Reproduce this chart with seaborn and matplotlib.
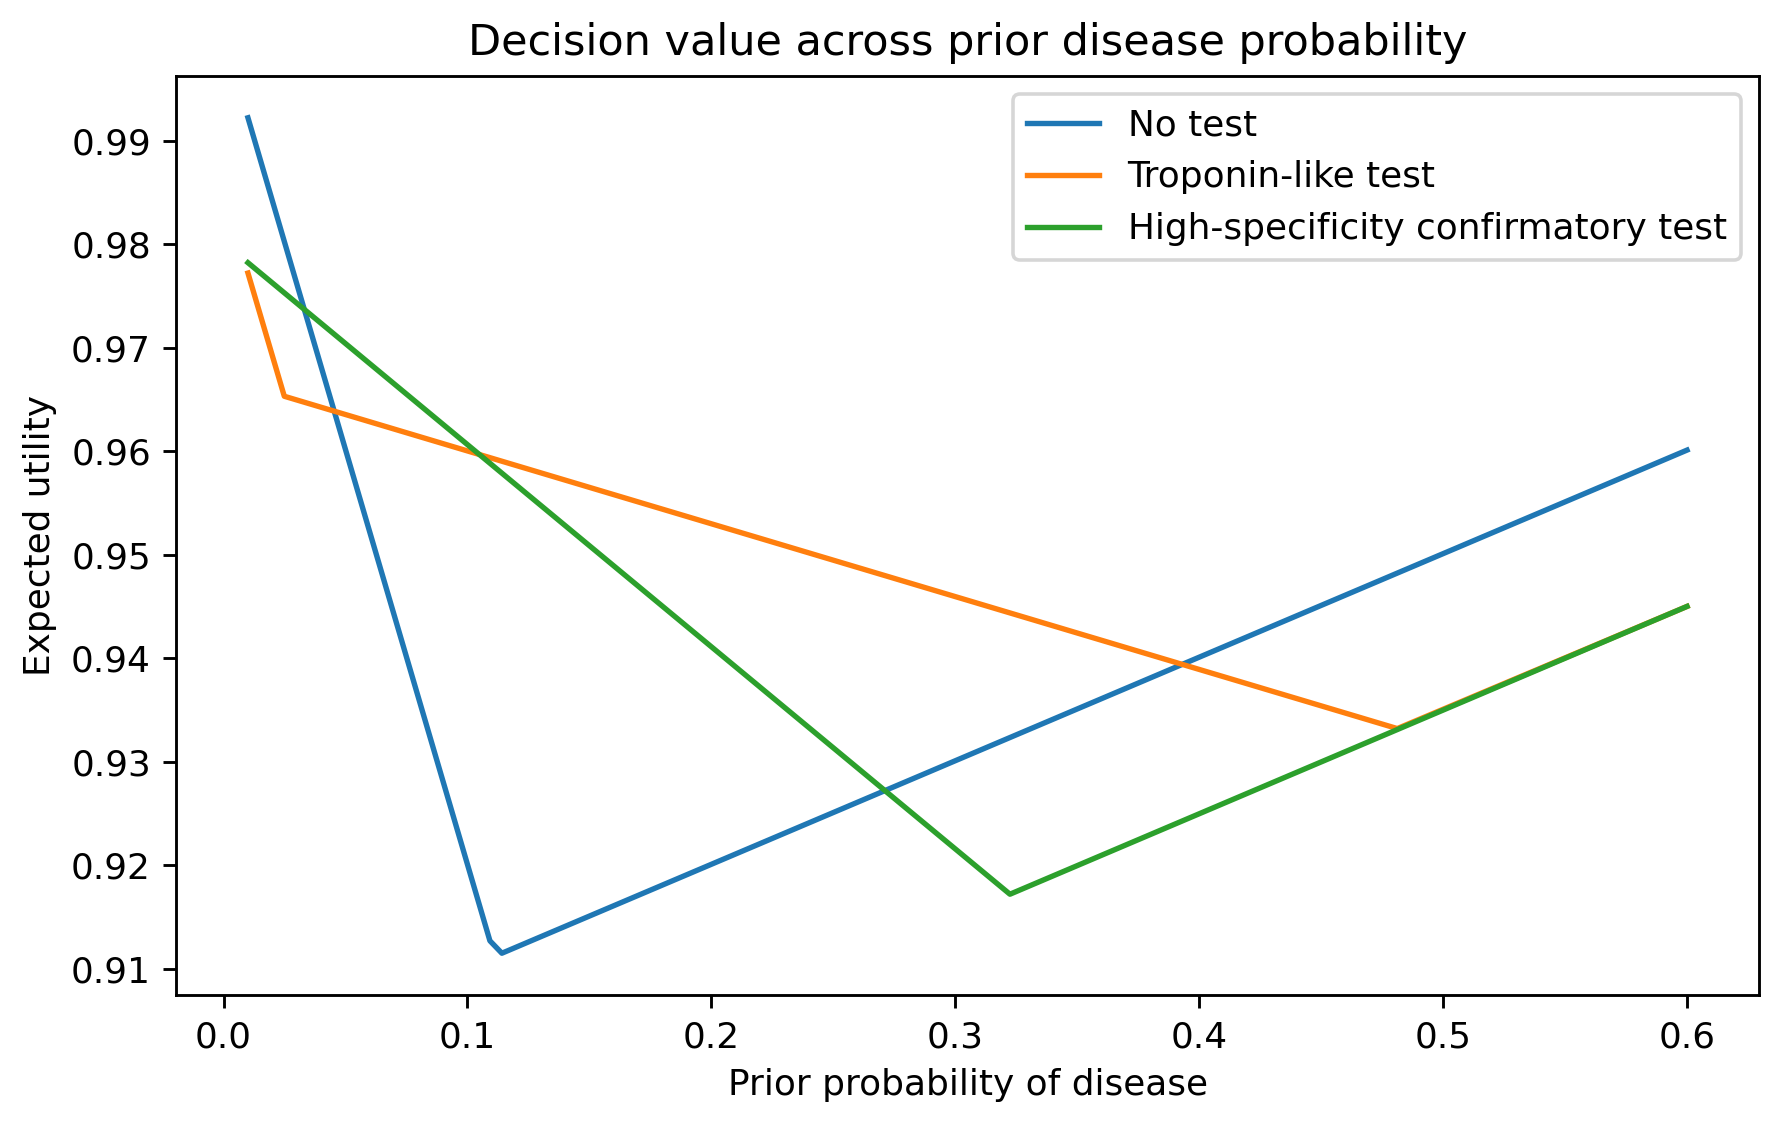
import matplotlib
matplotlib.use("Agg")
import matplotlib.pyplot as plt
import seaborn as sns
import pandas as pd

# Breakpoints (piecewise-linear curves)
no_test_x = [0.01, 0.1092, 0.1141, 0.6]
no_test_y = [0.9922, 0.9127, 0.9115, 0.9601]

troponin_x = [0.01, 0.0249, 0.4812, 0.6]
troponin_y = [0.9772, 0.9653, 0.9332, 0.9450]

confirm_x = [0.01, 0.3224, 0.6]
confirm_y = [0.9782, 0.9172, 0.9450]

labels = ["No test", "Troponin-like test", "High-specificity confirmatory test"]
colors = ["#1f77b4", "#ff7f0e", "#2ca02c"]

DPI = 258
fig = plt.figure(figsize=(1781 / DPI, 1127 / DPI), dpi=DPI)
ax = fig.add_axes([176 / 1781, 1 - 995 / 1127, (1759 - 176) / 1781, (995 - 76) / 1127])

series = [(no_test_x, no_test_y), (troponin_x, troponin_y), (confirm_x, confirm_y)]
for (xs, ys), lab, col in zip(series, labels, colors):
    df = pd.DataFrame({"x": xs, "y": ys})
    sns.lineplot(data=df, x="x", y="y", ax=ax, label=lab, color=col,
                 linewidth=1.5, sort=False, estimator=None)

ax.set_title("Decision value across prior disease probability", fontsize=12)
ax.set_xlabel("Prior probability of disease", fontsize=10)
ax.set_ylabel("Expected utility", fontsize=10)
ax.legend(loc="upper right", fontsize=10)

fig.savefig("out.png", dpi=DPI)
